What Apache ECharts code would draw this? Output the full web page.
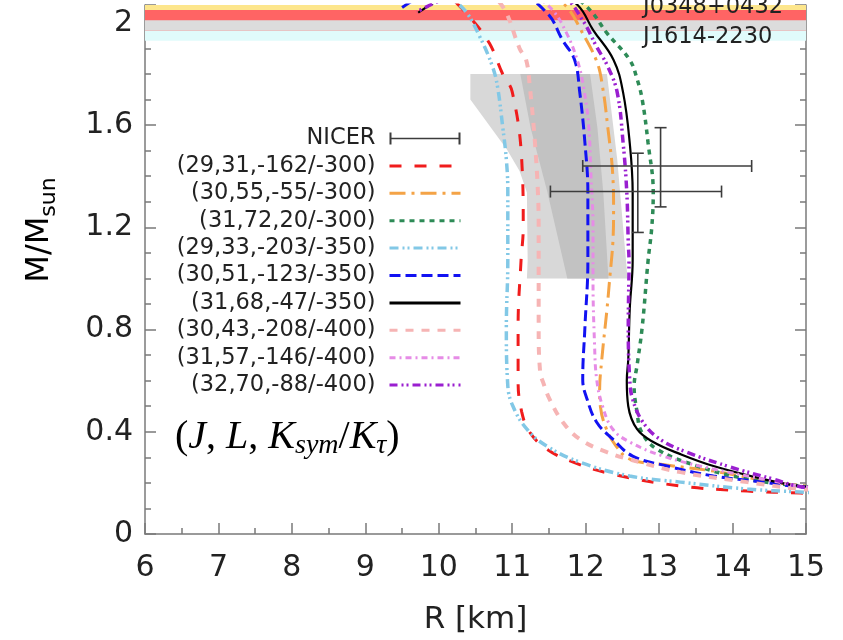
<!DOCTYPE html>
<html>
<head>
<meta charset="utf-8">
<script src="https://cdn.jsdelivr.net/npm/echarts@6/dist/echarts.min.js"></script>
<style>
  html, body { margin: 0; padding: 0; background: #fff; }
  #chart { width: 843px; height: 640px; }
</style>
</head>
<body>
<div id="chart"></div>
<script>
// ---- axis ranges ----
const radiusMin = 6, radiusMax = 15, radiusStep = 1;
const massMin = 0, massMax = 2.07, massStep = 0.4;

// ---- EoS parameter sets (J, L, Ksym/Ktau) ----
const eosLabels = [
  '(29,31,-162/-300)', '(30,55,-55/-300)', '(31,72,20/-300)',
  '(29,33,-203/-350)', '(30,51,-123/-350)', '(31,68,-47/-350)',
  '(30,43,-208/-400)', '(31,57,-146/-400)', '(32,70,-88/-400)'
];

// ---- mass-radius curves: [R (km), M/Msun] ----
const mr_29_31 = [[15.3,0.152],[14.92,0.160],[14.2,0.168],[13.29,0.188],[12.37,0.234],[11.83,0.281],[11.47,0.332],[11.24,0.398],[11.13,0.477],[11.08,0.60],[11.08,0.81],[11.12,1.07],[11.15,1.2],[11.13,1.46],[11.0,1.73],[10.87,1.80],[10.69,1.92],[10.46,2.01],[10.2,2.09]];
const mr_30_55 = [[15.3,0.185],[14.92,0.19],[14.42,0.21],[13.74,0.246],[13.1,0.27],[12.6,0.293],[12.4,0.35],[12.27,0.42],[12.2,0.50],[12.19,0.56],[12.22,0.684],[12.29,0.879],[12.33,1.008],[12.37,1.14],[12.38,1.27],[12.37,1.40],[12.3,1.594],[12.23,1.75],[12.15,1.85],[11.92,1.98],[11.78,2.05],[11.6,2.1]];
const mr_31_72 = [[15.3,0.18],[14.92,0.1875],[14.2,0.215],[13.52,0.266],[12.97,0.332],[12.76,0.40],[12.7,0.477],[12.66,0.578],[12.7,0.66],[12.77,0.81],[12.85,1.07],[12.9,1.2],[12.92,1.336],[12.85,1.53],[12.77,1.7],[12.7,1.78],[12.6,1.855],[12.29,1.96],[12.06,2.05],[11.7,2.14]];
const mr_29_33 = [[15.3,0.158],[14.92,0.164],[14.2,0.176],[13.29,0.203],[12.6,0.227],[11.92,0.281],[11.47,0.344],[11.2,0.41],[11.01,0.50],[10.94,0.58],[10.92,0.81],[10.94,1.07],[10.94,1.34],[10.92,1.465],[10.87,1.594],[10.8,1.75],[10.73,1.83],[10.56,1.945],[10.38,2.04],[10.2,2.09]];
const mr_30_51 = [[15.3,0.178],[14.92,0.184],[14.42,0.203],[13.74,0.227],[13.11,0.266],[12.64,0.305],[12.37,0.371],[12.15,0.4375],[12.02,0.527],[11.96,0.605],[11.99,0.81],[12.03,1.07],[12.03,1.2],[12.03,1.336],[11.99,1.53],[11.92,1.727],[11.85,1.855],[11.69,1.93],[11.47,2.04],[11.0,2.13],[10.3,2.15],[9.8,2.11],[9.5,2.06]];
const mr_31_68 = [[15.3,0.18],[14.92,0.1875],[14.42,0.215],[13.74,0.266],[13.29,0.3125],[12.92,0.36],[12.7,0.41],[12.58,0.50],[12.56,0.60],[12.58,0.684],[12.6,0.879],[12.64,1.074],[12.64,1.2],[12.64,1.336],[12.6,1.53],[12.51,1.727],[12.38,1.855],[12.1,1.973],[11.89,2.07],[11.5,2.14],[10.8,2.18],[10.2,2.12],[9.72,2.04]];
const mr_30_43 = [[15.3,0.17],[14.92,0.176],[14.2,0.203],[13.29,0.242],[12.74,0.281],[12.29,0.32],[11.92,0.371],[11.69,0.4375],[11.51,0.527],[11.42,0.594],[11.38,0.633],[11.36,0.81],[11.36,1.035],[11.36,1.2],[11.35,1.336],[11.31,1.53],[11.24,1.75],[11.19,1.855],[11.1,1.9],[10.92,2.04],[10.8,2.09]];
const mr_31_57 = [[15.3,0.18],[14.92,0.1875],[14.42,0.215],[13.74,0.254],[13.05,0.305],[12.6,0.36],[12.37,0.41],[12.23,0.50],[12.15,0.605],[12.12,0.75],[12.1,1.0],[12.1,1.2],[12.07,1.414],[12.04,1.6],[11.97,1.75],[11.89,1.85],[11.74,1.96],[11.55,2.05],[11.3,2.11]];
const mr_32_70 = [[15.3,0.178],[14.92,0.185],[14.55,0.215],[13.97,0.262],[13.38,0.32],[13.01,0.371],[12.78,0.4375],[12.64,0.527],[12.6,0.605],[12.58,0.81],[12.59,1.07],[12.58,1.14],[12.56,1.336],[12.51,1.53],[12.43,1.727],[12.3,1.83],[12.15,1.906],[11.96,2.01],[11.7,2.1],[11.0,2.16],[10.3,2.12],[9.7,2.043]];
const eosCurves = [mr_29_31, mr_30_55, mr_31_72, mr_29_33, mr_30_51, mr_31_68, mr_30_43, mr_31_57, mr_32_70];

// ---- NICER PSR J0030+0451: [R, M, Rlow, Rhigh, Mlow, Mhigh] ----
const nicerRiley  = [12.71, 1.34, 11.52, 13.85, 1.18, 1.49];
const nicerMiller = [13.02, 1.44, 11.96, 14.26, 1.28, 1.59];

// ---- pulsar mass bands [Mlow, Mhigh] ----
const bandNames = ['J0740+6620', 'J1614-2230', 'J0348+0432'];
const bandLow   = [2.05, 1.93, 1.97];
const bandHigh  = [2.24, 2.01, 2.05];

// ---- NICER credible regions (polygon vertices, [R, M]) ----
const nicerOuter = [[10.43,1.80],[12.29,1.80],[12.43,1.465],[12.57,1.00],[11.20,1.00],[11.21,1.07],[11.20,1.336],[11.1,1.42],[10.93,1.504],[10.43,1.70]];
const nicerInner = [[11.11,1.80],[12.06,1.80],[12.16,1.59],[12.24,1.336],[12.31,1.00],[11.75,1.00],[11.48,1.336],[11.25,1.59]];

// ---- styles ----
const eosStyles = [
  { color: '#f01c1c', width: 3,   type: [12, 13] },
  { color: '#f4a346', width: 3,   type: [16, 6, 3, 6] },
  { color: '#2e8b57', width: 3.5, type: [5, 5] },
  { color: '#82c8e6', width: 3.5, type: [9, 4, 2, 3, 2, 4] },
  { color: '#1212f2', width: 3,   type: [11, 5] },
  { color: '#000000', width: 2.2, type: 'solid' },
  { color: '#f6b4b4', width: 4,   type: [8, 8] },
  { color: '#e68ce6', width: 3,   type: [6, 4, 2, 4] },
  { color: '#9a1fd0', width: 3.5, type: [8, 4, 2, 3, 2, 4] }
];
const bandColors = ['#fde68c', '#e0fbfb', '#ff6464'];
const overlapColor = '#dcdcdc';
const regionColors = ['#d8d8d8', '#c2c2c2'];
const font = 'DejaVu Sans';

// overlapping part of the J1614 and J0348 bands
const overlapLow = Math.max(bandLow[1], bandLow[2]);
const overlapHigh = Math.min(bandHigh[1], bandHigh[2]);
const bandRows = bandLow.map((lo, i) => [lo, bandHigh[i], i]).concat([[overlapLow, overlapHigh, 3]]);

const chart = echarts.init(document.getElementById('chart'));

function renderBand(params, api) {
  const cs = params.coordSys;
  const yTop = api.coord([radiusMin, api.value(1)])[1];
  const yBot = api.coord([radiusMin, api.value(0)])[1];
  const shape = echarts.graphic.clipRectByRect(
    { x: cs.x, y: yTop, width: cs.width, height: yBot - yTop },
    { x: cs.x, y: cs.y, width: cs.width, height: cs.height });
  if (!shape) return;
  const idx = api.value(2);
  return { type: 'rect', shape: shape,
           style: { fill: idx === 3 ? overlapColor : bandColors[idx] } };
}

function renderRegion(points, color) {
  return function (params, api) {
    if (params.dataIndex !== 0) return;
    return { type: 'polygon',
             shape: { points: points.map(p => api.coord(p)) },
             style: { fill: color } };
  };
}

function renderErrorBar(params, api) {
  const r = api.value(0), m = api.value(1);
  const pl = api.coord([api.value(2), m]);
  const ph = api.coord([api.value(3), m]);
  const pb = api.coord([r, api.value(4)]);
  const pt = api.coord([r, api.value(5)]);
  const cap = 6;
  const st = { stroke: '#3c3c3c', lineWidth: 1.6 };
  const seg = (x1, y1, x2, y2) => ({ type: 'line', shape: { x1, y1, x2, y2 }, style: st });
  return { type: 'group', children: [
    seg(pl[0], pl[1], ph[0], ph[1]),
    seg(pl[0], pl[1] - cap, pl[0], pl[1] + cap),
    seg(ph[0], ph[1] - cap, ph[0], ph[1] + cap),
    seg(pb[0], pb[1], pt[0], pt[1]),
    seg(pb[0] - cap, pb[1], pb[0] + cap, pb[1]),
    seg(pt[0] - cap, pt[1], pt[0] + cap, pt[1])
  ]};
}

const series = [
  { type: 'custom', name: 'bands', data: bandRows, renderItem: renderBand,
    encode: { y: [0, 1] }, z: 1, silent: true },
  { type: 'custom', name: 'regionOuter', data: nicerOuter, renderItem: renderRegion(nicerOuter, regionColors[0]),
    encode: { x: 0, y: 1 }, z: 2, silent: true },
  { type: 'custom', name: 'regionInner', data: nicerInner, renderItem: renderRegion(nicerInner, regionColors[1]),
    encode: { x: 0, y: 1 }, z: 2, silent: true }
];

eosLabels.forEach((name, i) => {
  const s = eosStyles[i];
  series.push({
    type: 'line', name: name, data: eosCurves[i],
    symbol: 'none', showSymbol: false, smooth: 0.4, clip: true, z: 3,
    itemStyle: { color: s.color },
    lineStyle: { color: s.color, width: s.width, type: s.type }
  });
});

series.push({
  type: 'custom', name: 'NICER', data: [nicerRiley, nicerMiller],
  renderItem: renderErrorBar, encode: { x: [0, 2, 3], y: [1, 4, 5] },
  itemStyle: { color: '#3c3c3c' }, z: 4
});

const axisLineStyle = { color: '#7a7a7a', width: 1.5 };
const tickFont = { fontFamily: font, fontSize: 30, color: '#222' };

chart.setOption({
  animation: false,
  backgroundColor: '#ffffff',
  grid: { left: 145, right: 37, top: 5, bottom: 105 },
  xAxis: [
    { type: 'value', min: radiusMin, max: radiusMax, interval: radiusStep,
      name: 'R [km]', nameLocation: 'middle', nameGap: 70,
      nameTextStyle: { fontFamily: font, fontSize: 31, color: '#222' },
      axisLine: { show: true, onZero: false, lineStyle: axisLineStyle },
      axisTick: { inside: true, length: 11, lineStyle: axisLineStyle },
      minorTick: { show: true, splitNumber: 2, length: 6, lineStyle: axisLineStyle },
      axisLabel: Object.assign({ margin: 19 }, tickFont),
      splitLine: { show: false } }
  ],
  yAxis: [
    { type: 'value', min: massMin, max: massMax, interval: massStep,
      axisLine: { show: true, onZero: false, lineStyle: axisLineStyle },
      axisTick: { inside: true, length: 11, lineStyle: axisLineStyle },
      minorTick: { show: true, splitNumber: 4, length: 6, lineStyle: axisLineStyle },
      axisLabel: Object.assign({ margin: 12, showMaxLabel: false }, tickFont),
      splitLine: { show: false } },
    { type: 'value', min: massMin, max: massMax, interval: massStep, position: 'right',
      axisLine: { show: true, onZero: false, lineStyle: axisLineStyle },
      axisTick: { inside: true, length: 11, lineStyle: axisLineStyle },
      minorTick: { show: true, splitNumber: 4, length: 6, lineStyle: axisLineStyle },
      axisLabel: { show: false }, splitLine: { show: false } }
  ],
  legend: {
    orient: 'vertical', align: 'right', right: 381, top: 127, padding: 0,
    itemWidth: 71, itemHeight: 12, itemGap: 4.4,
    selectedMode: false,
    textStyle: { fontFamily: font, fontSize: 22.5, color: '#222', lineHeight: 22, padding: [0, 9, 0, 0] },
    lineStyle: { width: 3 },
    data: [{ name: 'NICER', icon: 'path://M0,0H2V12H0Z M0,5.2H71V6.8H0Z M69,0H71V12H69Z' }]
      .concat(eosLabels.map(n => ({ name: n, itemStyle: { opacity: 0 } })))
  },
  graphic: [
    { type: 'text', x: 643, y: 7, z: 10,
      style: { text: 'J0348+0432', fill: '#222', font: '22.5px "DejaVu Sans"', align: 'left', verticalAlign: 'middle' } },
    { type: 'text', x: 643, y: 37, z: 10,
      style: { text: 'J1614-2230', fill: '#222', font: '22.5px "DejaVu Sans"', align: 'left', verticalAlign: 'middle' } },
    { type: 'text', x: 40, y: 230, rotation: Math.PI / 2, z: 10,
      style: { text: '{a|M/M}{b|sun}', align: 'center', verticalAlign: 'middle',
        rich: { a: { fontFamily: font, fontSize: 32, color: '#222', lineHeight: 40, verticalAlign: 'middle' },
                b: { fontFamily: font, fontSize: 22, color: '#222', lineHeight: 22, verticalAlign: 'bottom' } } } },
    { type: 'text', x: 175, y: 437, z: 10,
      style: { text: '{p|(}{i|J}{p|, }{i|L}{p|, }{i|K}{s|sym}{p|/}{i|K}{s|τ}{p|)}', align: 'left', verticalAlign: 'middle',
        rich: {
          p: { fontFamily: 'Liberation Serif', fontSize: 40, color: '#111', lineHeight: 46, verticalAlign: 'middle' },
          i: { fontFamily: 'Liberation Serif', fontStyle: 'italic', fontSize: 40, color: '#111', lineHeight: 46, verticalAlign: 'middle' },
          s: { fontFamily: 'Liberation Serif', fontStyle: 'italic', fontSize: 28, color: '#111', lineHeight: 28, verticalAlign: 'bottom' }
        } } }
  ],
  series: series
});
</script>
</body>
</html>
